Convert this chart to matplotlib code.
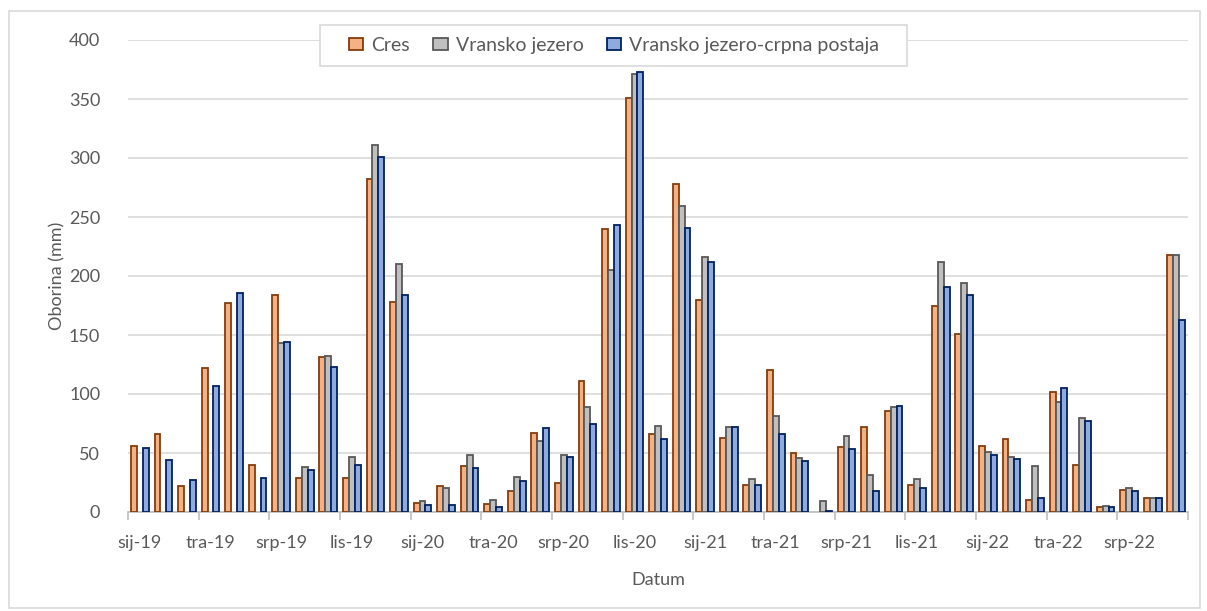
import matplotlib
matplotlib.use("Agg")
import matplotlib.pyplot as plt
import numpy as np
from matplotlib.patches import Rectangle

nan = np.nan
months = ["sij", "velj", "ožu", "tra", "svi", "lip", "srp", "kol", "ruj", "lis", "stu", "pro"]
categories = [f"{m}-{y}" for y in ["19", "20", "21", "22"] for m in months][:45]

cres = [56, 66, 22, 122, 177, 40, 184, 29, 131, 29, 282, 178,
        8, 22, 39, 7, 18, 67, 25, 111, 240, 351, 66, 278,
        180, 63, 23, 120, 50, nan, 55, 72, 86, 23, 175, 151,
        56, 62, 10, 102, 40, 4, 19, 12, 218]
vransko = [nan, nan, nan, nan, nan, nan, 143, 38, 132, 47, 311, 210,
           9, 20, 48, 10, 30, 60, 48, 89, 205, 371, 73, 259,
           216, 72, 28, 81, 46, 9, 64, 31, 89, 28, 212, 194,
           51, 47, 39, 93, 80, 5, 20, 12, 218]
crpna = [54, 44, 27, 107, 186, 29, 144, 36, 123, 40, 301, 184,
         6, 6, 37, 4, 26, 71, 47, 75, 243, 373, 62, 241,
         212, 72, 23, 66, 43, 1, 53, 18, 90, 20, 191, 184,
         48, 45, 12, 105, 77, 4, 18, 12, 163]

series_names = ["Cres", "Vransko jezero", "Vransko jezero-crpna postaja"]
face_colors = ["#F4B183", "#BFBFBF", "#8FAADC"]
edge_colors = ["#843C0C", "#595959", "#002060"]

plt.rcParams['font.family'] = ['Lato', 'DejaVu Sans']
txt = "#595959"

fig = plt.figure(figsize=(12.07, 6.11), dpi=100)
fig.patches.append(Rectangle((8.5/1207, 1 - 608/611), (1200-8.5)/1207, (608-10.5)/611,
                             transform=fig.transFigure, fill=False, edgecolor="#D9D9D9", lw=1.2))
ax = fig.add_axes([128/1207, 1 - 512/611, (1188-128)/1207, (512-40)/611])

x = np.arange(len(categories))
w = 0.25
for i, (vals, name) in enumerate(zip([cres, vransko, crpna], series_names)):
    ax.bar(x + (i - 1) * w, vals, width=w, color=face_colors[i], edgecolor=edge_colors[i],
           linewidth=1.3, label=name, zorder=3)

ax.set_xlim(-0.5, len(categories) - 0.5)
ax.set_ylim(0, 400)
ax.set_yticks(np.arange(0, 401, 50))
ax.yaxis.grid(True, color="#D9D9D9", lw=1.2, zorder=0)
ax.tick_params(axis='y', length=0, labelsize=13, labelcolor=txt, pad=20)

ax.set_xticks(np.arange(-0.5, len(categories), 3))
ax.set_xticklabels([])
ax.set_xticks(np.arange(0, len(categories), 3), minor=True)
ax.set_xticklabels(categories[::3], minor=True)
ax.tick_params(axis='x', which='major', length=6, color="#BFBFBF", width=1.2)
ax.tick_params(axis='x', which='minor', length=0, labelsize=13, labelcolor=txt, pad=16.5)

for s in ["left", "right", "top"]:
    ax.spines[s].set_visible(False)
ax.spines["bottom"].set_color("#BFBFBF")
ax.spines["bottom"].set_linewidth(1.2)

ax.set_ylabel("Oborina (mm)", fontsize=13, color=txt, labelpad=2.5)
ax.set_xlabel("Datum", fontsize=13, color=txt, labelpad=15)

# legend box
fig.patches.append(Rectangle((320/1207, 1 - 66/611), (907-320)/1207, (66-25)/611,
                             transform=fig.transFigure, facecolor="white", edgecolor="#D9D9D9",
                             lw=1.2, zorder=4))
leg = fig.legend(loc="center", bbox_to_anchor=(614/1207, 1 - 45.5/611), ncol=3, frameon=False,
                 fontsize=14, handlelength=0.75, handleheight=0.55, handletextpad=0.4,
                 columnspacing=1.2, borderpad=0, borderaxespad=0, labelcolor=txt)
leg.set_zorder(5)

fig.savefig("out.png", dpi=100)
